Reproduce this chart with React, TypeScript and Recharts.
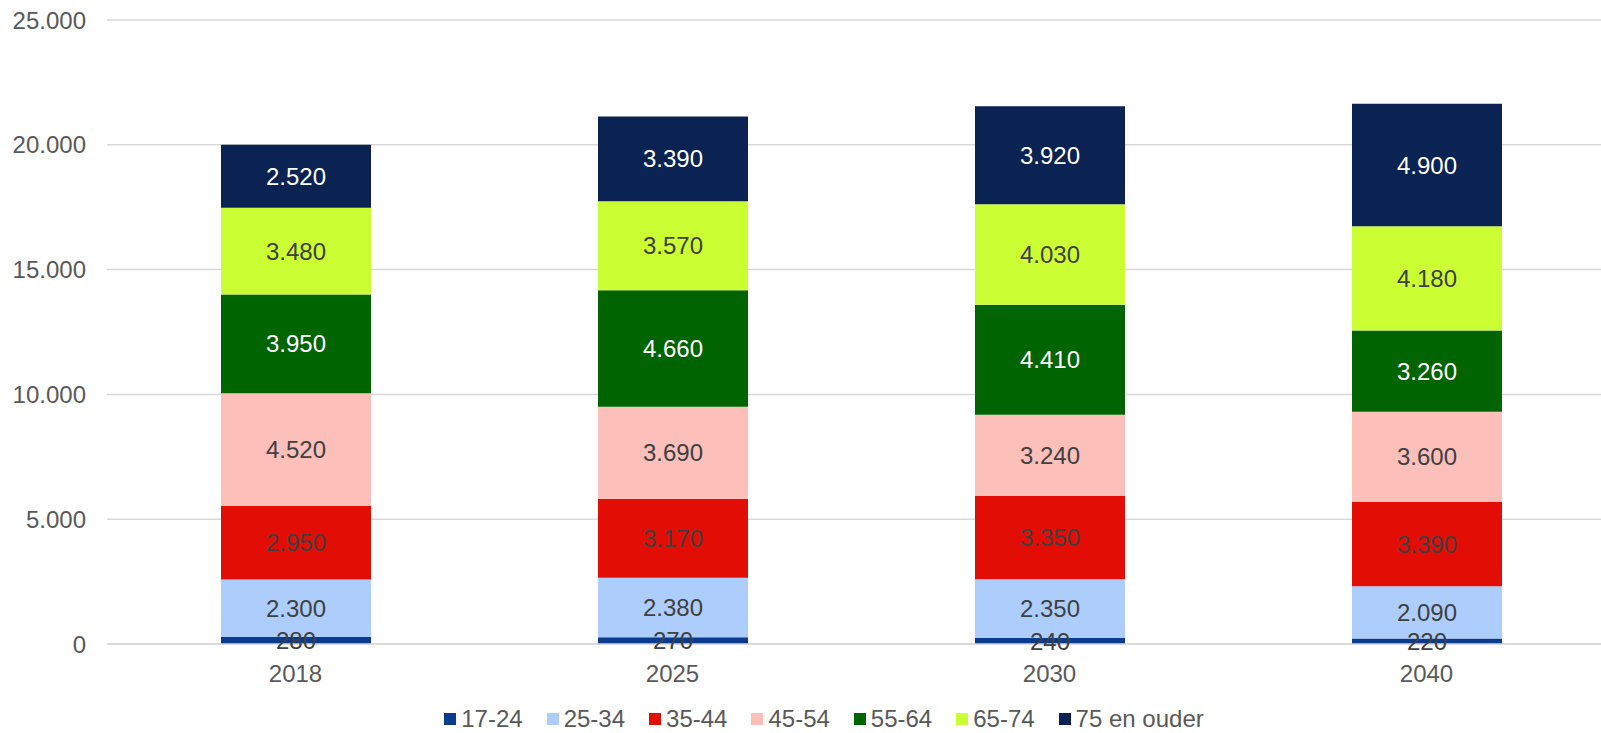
import { BarChart, Bar, XAxis, YAxis, CartesianGrid, Legend, LabelList } from "recharts"

// jaren en leeftijdsgroepen
const years = ["2018", "2025", "2030", "2040"]
const groups = ["17-24", "25-34", "35-44", "45-54", "55-64", "65-74", "75 en ouder"]

// waarden per leeftijdsgroep, in volgorde van de jaren
const v1724 = [280, 270, 240, 220]
const v2534 = [2300, 2380, 2350, 2090]
const v3544 = [2950, 3170, 3350, 3390]
const v4554 = [4520, 3690, 3240, 3600]
const v5564 = [3950, 4660, 4410, 3260]
const v6574 = [3480, 3570, 4030, 4180]
const v75plus = [2520, 3390, 3920, 4900]

const yTicks = [0, 5000, 10000, 15000, 20000, 25000]

const seriesValues = [v1724, v2534, v3544, v4554, v5564, v6574, v75plus]
const colors = ["#0b3b8c", "#adcdfd", "#e20e06", "#fdbfb9", "#006400", "#ccff33", "#0a2352"]
const labelColors = ["#404040", "#404040", "#404040", "#404040", "#ffffff", "#404040", "#ffffff"]

const data = years.map((year, i) => {
  const row: Record<string, string | number> = { year }
  groups.forEach((g, j) => {
    row[g] = seriesValues[j][i]
  })
  return row
})

const fmt = (v: any) => String(v).replace(/\B(?=(\d{3})+(?!\d))/g, ".")

const FONT = '"Liberation Sans", Arial, sans-serif'

const LegendContent = () => (
  <div style={{ display: "flex", justifyContent: "center", fontFamily: FONT, fontSize: 24, lineHeight: "24px", color: "#595959" }}>
    {groups.map((g, i) => (
      <div key={g} style={{ display: "flex", alignItems: "center", marginRight: i < groups.length - 1 ? 24 : 0 }}>
        <span style={{ display: "inline-block", width: 12, height: 12, background: colors[i], marginRight: 5 }} />
        <span>{g}</span>
      </div>
    ))}
  </div>
)

export default function App() {
  return (
    <div style={{ position: "absolute", left: 0, top: 0, width: 1601, height: 733, overflow: "hidden", background: "#fff" }}>
      <BarChart
        width={1648}
        height={733}
        data={data}
        margin={{ top: 20, right: 33, bottom: 49, left: 0 }}
        style={{ fontFamily: FONT }}
      >
        <CartesianGrid vertical={false} stroke="#d9d9d9" strokeWidth={1.5} />
        <XAxis
          dataKey="year"
          height={40}
          axisLine={{ stroke: "#d9d9d9", strokeWidth: 1.5 }}
          tickLine={false}
          tickSize={0}
          tickMargin={21}
          tick={{ fill: "#595959", fontSize: 24 }}
        />
        <YAxis
          width={107}
          domain={[0, 25000]}
          ticks={yTicks}
          axisLine={false}
          tickLine={false}
          tickSize={0}
          tickMargin={21}
          tickFormatter={fmt}
          tick={{ fill: "#595959", fontSize: 24 }}
        />
        <Legend
          verticalAlign="middle"
          align="center"
          layout="horizontal"
          content={LegendContent}
          wrapperStyle={{ top: 707, left: 0, width: 1648 }}
        />
        {groups.map((g, i) => (
          <Bar key={g} dataKey={g} stackId="a" fill={colors[i]} barSize={150} isAnimationActive={false}>
            <LabelList dataKey={g} position="center" formatter={fmt} fill={labelColors[i]} fontSize={24} />
          </Bar>
        ))}
      </BarChart>
    </div>
  )
}
